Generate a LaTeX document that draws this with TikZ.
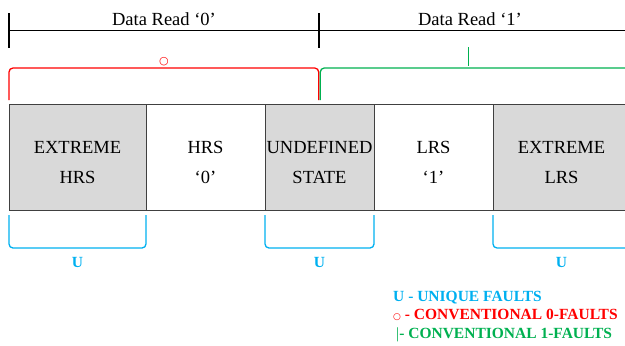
\documentclass[tikz,border=0pt]{standalone}
\usepackage{fontspec}
\setmainfont{Liberation Serif}
\newfontfamily\symfont{DejaVu Sans}
\usetikzlibrary{positioning}

\definecolor{faultred}{RGB}{255,0,0}
\definecolor{faultgreen}{RGB}{0,176,80}
\definecolor{faultblue}{RGB}{0,176,240}
\definecolor{cellgray}{RGB}{217,217,217}

\tikzset{
  cell/.style={draw=black!75, line width=0.8pt, minimum height=106pt, inner sep=0pt,
    outer sep=0pt, align=center, text height=52pt, text depth=0pt,
    font=\fontsize{18.5}{30}\selectfont},
  hotcell/.style={cell, fill=cellgray},
  fbrace/.style={line width=1.3pt, rounded corners=4pt},
  legend/.style={inner sep=0pt, font=\bfseries\fontsize{15.5}{18}\selectfont}
}

\begin{document}
\begin{tikzpicture}[x=1pt, y=-1pt]
  \useasboundingbox (0,0) rectangle (625,346);

  % Read intervals
  \draw[line width=1.2pt] (9,30.7) -- (640,30.7);
  \draw[line width=1.2pt] (9,13) -- (9,48);
  \draw[line width=1.2pt] (319,13) -- (319,48);
  \node[font=\fontsize{18.5}{20}\selectfont] (readzero) at (164,19.5) {Data Read ‘0’};
  \node[font=\fontsize{18.5}{20}\selectfont] (readone) at (470,19.5) {Data Read ‘1’};

  % Resistance states
  \node[hotcell, minimum width=137pt, anchor=north west] (exhrs) at (9,104) {EXTREME\\HRS};
  \node[cell, minimum width=119pt, right=0pt of exhrs] (hrs) {HRS\\‘0’};
  \node[hotcell, minimum width=109pt, right=0pt of hrs] (undef) {UNDEFINED\\STATE};
  \node[cell, minimum width=119pt, right=0pt of undef] (lrs) {LRS\\‘1’};
  \node[hotcell, minimum width=137pt, right=0pt of lrs] (exlrs) {EXTREME\\LRS};

  % Conventional faults
  \draw[fbrace, faultred] ([yshift=4pt]exhrs.north west) -- ([yshift=36pt]exhrs.north west)
    -- ([xshift=-0.8pt, yshift=36pt]undef.north) -- ([xshift=-0.8pt, yshift=4pt]undef.north);
  \draw[fbrace, faultgreen] ([xshift=0.8pt, yshift=4pt]undef.north) -- ([xshift=0.8pt, yshift=36pt]undef.north)
    -- ([xshift=10pt, yshift=36pt]exlrs.north east);
  \node[text=faultred, inner sep=0pt, font=\symfont\fontsize{11}{11}\selectfont] (zeromark) at (164,61.2) {○};
  \draw[faultgreen, line width=1.3pt] (468.5,47) -- (468.5,66);

  % Unique faults
  \foreach \c in {exhrs, undef, exlrs} {
    \draw[fbrace, faultblue] ([yshift=-5pt]\c.south west) -- ([yshift=-38pt]\c.south west)
      -- ([yshift=-38pt]\c.south east) -- ([yshift=-5pt]\c.south east);
    \node[legend, text=faultblue] at ([yshift=-52pt]\c.south) {U};
  }

  % Legend
  \node[legend, text=faultblue, anchor=base west] (legu) at (393,301) {U - UNIQUE FAULTS};
  \node[legend, text=faultred, anchor=base west] (legzero) at ([yshift=-18.5pt]legu.base west)
    {{\symfont\mdseries\fontsize{9}{9}\selectfont ○} - CONVENTIONAL 0-FAULTS};
  \node[legend, text=faultgreen, anchor=base west] (legone) at ([xshift=3pt, yshift=-18.5pt]legzero.base west)
    {{\mdseries|}- CONVENTIONAL 1-FAULTS};
\end{tikzpicture}
\end{document}
